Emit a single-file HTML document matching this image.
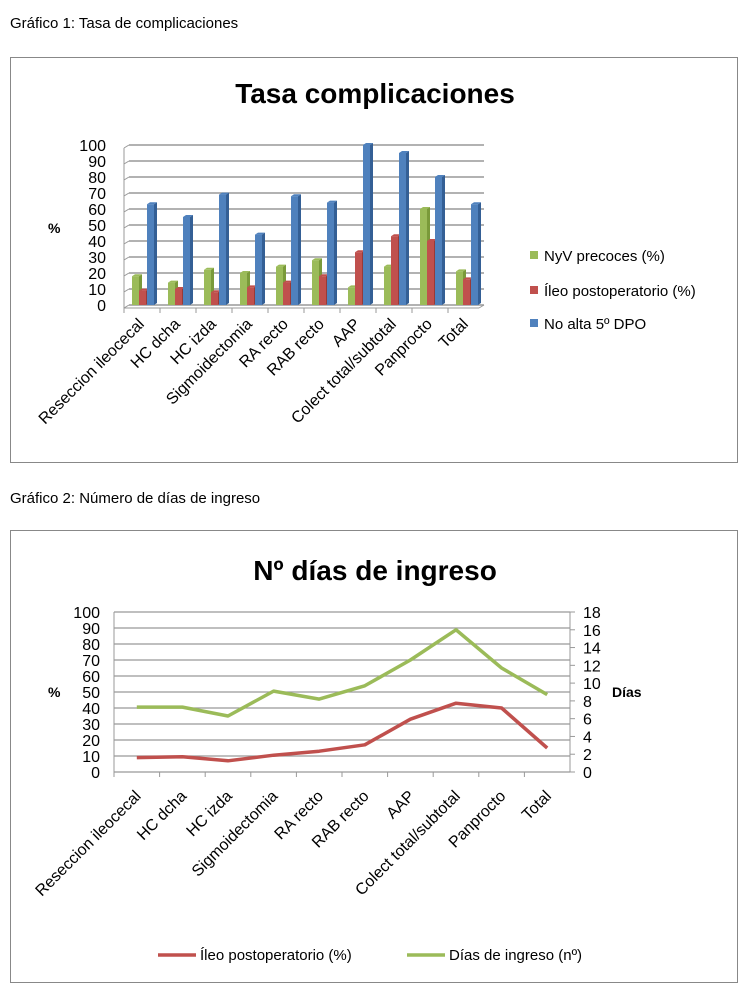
<!DOCTYPE html>
<html><head><meta charset="utf-8"><style>
body{margin:0;background:#fff;font-family:"Liberation Sans",sans-serif;}
svg text{font-family:"Liberation Sans",sans-serif;}
</style></head><body>
<svg width="750" height="998" xmlns="http://www.w3.org/2000/svg">
<text x="10" y="28" font-size="15" fill="#000">Gráfico 1: Tasa de complicaciones</text>
<rect x="10.5" y="57.5" width="727" height="405" fill="#fff" stroke="#888"/>
<text x="375" y="103" font-size="28" font-weight="bold" text-anchor="middle">Tasa complicaciones</text>
<text x="48" y="233" font-size="14" font-weight="bold">%</text>
<g id="c1"></g>
<text x="10" y="503" font-size="15">Gráfico 2: Número de días de ingreso</text>
<rect x="10.5" y="530.5" width="727" height="452" fill="#fff" stroke="#888"/>
<text x="375" y="580" font-size="28" font-weight="bold" text-anchor="middle">Nº días de ingreso</text>
<text x="48" y="697" font-size="14" font-weight="bold">%</text>
<text x="612" y="697" font-size="14" font-weight="bold">Días</text>
<g id="c2"></g>
</svg>
<script>
const categories=["Reseccion ileocecal","HC dcha","HC izda","Sigmoidectomia","RA recto","RAB recto","AAP","Colect total/subtotal","Panprocto","Total"];
const nyv=[18,14,22,20,24,28,11,24,60,21];
const ileo=[9,10,8,11,14,18,33,43,40,16];
const noAlta=[63,55,69,44,68,64,100,95,80,63];
const yTicks1=[0,10,20,30,40,50,60,70,80,90,100];
const ileo2=[9,9.5,7,10.5,13,17,33,43,40,15];
const dias=[7.3,7.3,6.3,9.1,8.2,9.7,12.6,16,11.7,8.7];
const yTicksL=[0,10,20,30,40,50,60,70,80,90,100];
const yTicksR=[0,2,4,6,8,10,12,14,16,18];
const NS="http://www.w3.org/2000/svg";
function mk(p,t,a,txt){const e=document.createElementNS(NS,t);for(const k in a)e.setAttribute(k,a[k]);if(txt!==undefined)e.textContent=txt;p.appendChild(e);return e;}
// chart 1
const g1=document.getElementById('c1');
const x0=124,x1=484,cw=(x1-x0)/categories.length;
const y1=v=>305-v*1.6;
yTicks1.forEach(t=>{
 const l=mk(g1,'line',{x1:x0+5,y1:y1(t),x2:x1,y2:y1(t),stroke:'#999','stroke-width':1.5});
 
 const s=mk(g1,'line',{x1:x0,y1:y1(t)+3,x2:x0+5,y2:y1(t),stroke:'#999'});
 
 const tx=mk(g1,'text',{x:106,y:y1(t)+6,'font-size':16,'text-anchor':'end'},t);
 
});
mk(g1,'line',{x1:x0,y1:y1(100)+3,x2:x0,y2:y1(0)+3,stroke:'#999'});
mk(g1,'line',{x1:x0,y1:y1(0)+3,x2:x1-5,y2:y1(0)+3,stroke:'#999'});
mk(g1,'line',{x1:x1-5,y1:y1(0)+3,x2:x1,y2:y1(0),stroke:'#999'});
const series=[[nyv,'#9bbb59','#7a9a3a',8],[ileo,'#c0504d','#983a37',15],[noAlta,'#4f81bd','#345f95',23]];
categories.forEach((c,i)=>{
 const bx=x0+i*cw;
 series.forEach(([arr,col,dark,off])=>{
  const v=arr[i],x=bx+off,top=y1(v),w=7;
  const r=mk(g1,'rect',{x:x,y:top,width:w,height:y1(0)-top,fill:col});
  
  mk(g1,'polygon',{points:`${x+w},${top} ${x+w+3},${top-2} ${x+w+3},${y1(0)-2} ${x+w},${y1(0)}`,fill:dark});
  mk(g1,'polygon',{points:`${x},${top} ${x+3},${top-2} ${x+w+3},${top-2} ${x+w},${top}`,fill:col});
 });
 mk(g1,'line',{x1:bx,y1:y1(0)+3,x2:bx,y2:y1(0)+8,stroke:'#999'});
 const cx=bx+cw/2+3,cy=325;
 const t=mk(g1,'text',{x:cx,y:cy,'font-size':16,'text-anchor':'end',transform:`rotate(-45 ${cx} ${cy})`},c);
 
});
[['NyV precoces (%)','#9bbb59',256],['Íleo postoperatorio (%)','#c0504d',291],['No alta 5º DPO','#4f81bd',324]].forEach(([n,c,y])=>{
 const r=mk(g1,'rect',{x:530,y:y-5,width:8,height:8,fill:c});
 
 const t=mk(g1,'text',{x:544,y:y+5,'font-size':15},n);
 
});
// chart 2
const g2=document.getElementById('c2');
const px0=114,px1=570,pw=(px1-px0)/categories.length;
const yL=v=>772-v*1.6, yR=v=>772-v*160/18;
yTicksL.forEach(t=>{
 const l=mk(g2,'line',{x1:px0,y1:yL(t),x2:px1,y2:yL(t),stroke:'#999','stroke-width':1.2});
 
 const tx=mk(g2,'text',{x:100,y:yL(t)+6,'font-size':16,'text-anchor':'end'},t);
 
});
yTicksR.forEach(t=>{
 const tx=mk(g2,'text',{x:583,y:yR(t)+6,'font-size':16},t);
 
 mk(g2,'line',{x1:px1,y1:yR(t),x2:px1+5,y2:yR(t),stroke:'#999'});
});
mk(g2,'line',{x1:px0,y1:yL(100),x2:px0,y2:yL(0),stroke:'#999'});
mk(g2,'line',{x1:px1,y1:yL(100),x2:px1,y2:yL(0),stroke:'#999'});
categories.forEach((c,i)=>{
 const bx=px0+i*pw;
 mk(g2,'line',{x1:bx,y1:yL(0),x2:bx,y2:yL(0)+5,stroke:'#999'});
 const cx=bx+pw/2+5,cy=797;
 const t=mk(g2,'text',{x:cx,y:cy,'font-size':16,'text-anchor':'end',transform:`rotate(-45 ${cx} ${cy})`},c);
 
});
const cxp=i=>px0+pw*(i+0.5);
const pl1=mk(g2,'polyline',{points:ileo2.map((v,i)=>cxp(i)+','+yL(v)).join(' '),fill:'none',stroke:'#c0504d','stroke-width':3.5,'stroke-linejoin':'round'});

const pl2=mk(g2,'polyline',{points:dias.map((v,i)=>cxp(i)+','+yR(v)).join(' '),fill:'none',stroke:'#9bbb59','stroke-width':3.5,'stroke-linejoin':'round'});

[['Íleo postoperatorio (%)','#c0504d',158],['Días de ingreso (nº)','#9bbb59',407]].forEach(([n,c,x])=>{
 const l=mk(g2,'line',{x1:x,y1:955,x2:x+38,y2:955,stroke:c,'stroke-width':3.5});
 
 const t=mk(g2,'text',{x:x+42,y:960,'font-size':15},n);
 
});
</script>
</body></html>
